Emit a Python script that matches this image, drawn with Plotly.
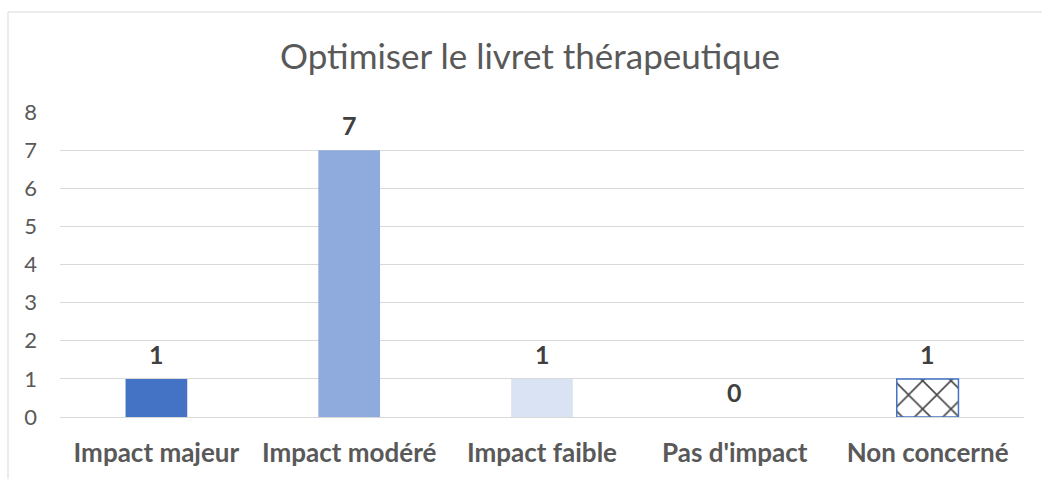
import plotly.graph_objects as go

# Chart data
categories = ["Impact majeur", "Impact modéré", "Impact faible", "Pas d'impact", "Non concerné"]
counts = [1, 7, 1, 0, 1]
bar_colors = ["#4472C4", "#8FAADC", "#DAE3F3", "#FFFFFF", "#FFFFFF"]
bar_patterns = ["", "", "", "", "x"]
title_text = "Optimiser le livret thérapeutique"
y_ticks = [0, 1, 2, 3, 4, 5, 6, 7, 8]

FONT = "Lato"
W, H = 1042, 479
ML, MR, MT, MB = 60, 18, 112, 62

fig = go.Figure()
fig.add_trace(go.Bar(
    x=categories,
    y=counts,
    marker=dict(
        color=bar_colors,
        line=dict(color="#4472C4", width=[0, 0, 0, 0, 1.5]),
        pattern=dict(
            shape=bar_patterns,
            fgcolor="#000000",
            fgopacity=1,
            size=20,
            solidity=0.15,
        ),
    ),
    hoverinfo="x+y",
    showlegend=False,
))

# value labels above each bar
for cat, val in zip(categories, counts):
    fig.add_annotation(
        x=cat, y=val, text=f"<b>{val}</b>", showarrow=False,
        yanchor="middle", yshift=25,
        font=dict(family=FONT, size=25, color="#404040"),
    )

# light chart frame
plot_w = W - ML - MR
plot_h = H - MT - MB
fig.add_shape(
    type="rect", xref="paper", yref="paper",
    x0=(8 - ML) / plot_w, x1=(W + 20 - ML) / plot_w,
    y0=-(MB + 20) / plot_h, y1=(H - MB - 12) / plot_h,
    line=dict(color="#D9D9D9", width=1), fillcolor="rgba(0,0,0,0)", layer="below",
)

fig.update_layout(
    width=W, height=H,
    margin=dict(l=ML, r=MR, t=MT, b=MB),
    paper_bgcolor="#FFFFFF", plot_bgcolor="#FFFFFF",
    bargap=0.68,
    title=dict(
        text=title_text, x=530 / W, xanchor="center",
        y=1 - 57 / H, yanchor="middle",
        font=dict(family=FONT, size=35, color="#595959"),
    ),
    xaxis=dict(
        showgrid=False, showline=False, zeroline=False,
        tickfont=dict(family=FONT, size=26, color="#595959", weight="bold"),
        ticks="", ticklabelstandoff=18,
    ),
    yaxis=dict(
        range=[0, 8], tickvals=y_ticks, showgrid=True, gridcolor="#D9D9D9", gridwidth=1,
        zeroline=True, zerolinecolor="#D9D9D9", zerolinewidth=1, showline=False,
        tickfont=dict(family=FONT, size=22, color="#595959"),
        ticks="", ticklabelstandoff=22,
    ),
)

fig.write_html("out.html")
